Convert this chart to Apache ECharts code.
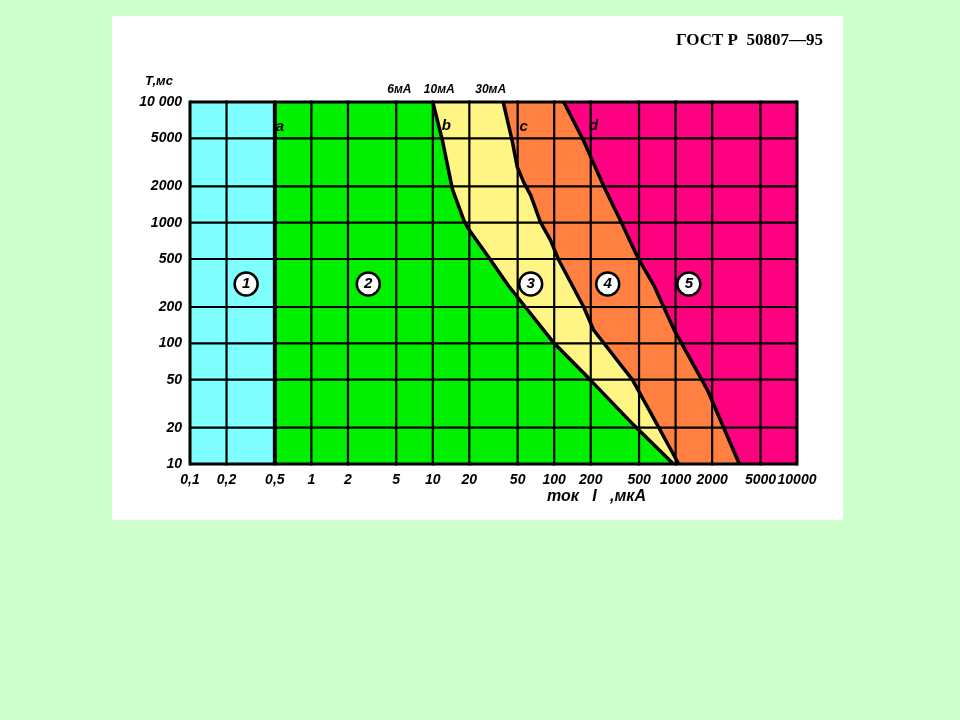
<!DOCTYPE html>
<html>
<head>
<meta charset="utf-8">
<title>ГОСТ Р 50807-95</title>
<script src="https://cdn.jsdelivr.net/npm/echarts@6/dist/echarts.min.js"></script>
<style>
html,body{margin:0;padding:0;background:#ccffcc;}
#chart{width:960px;height:720px;}
</style>
</head>
<body>
<div id="chart"></div>
<script>
// шкалы
var xTicks = [0.1, 0.2, 0.5, 1, 2, 5, 10, 20, 50, 100, 200, 500, 1000, 2000, 5000, 10000];
var xTickLabels = ['0,1', '0,2', '0,5', '1', '2', '5', '10', '20', '50', '100', '200', '500', '1000', '2000', '5000', '10000'];
var yTicks = [10, 20, 50, 100, 200, 500, 1000, 2000, 5000, 10000];
var yTickLabels = ['10', '20', '50', '100', '200', '500', '1000', '2000', '5000', '10 000'];

// граничные кривые (ток, время)
var curveA = [[0.5, 10000], [0.5, 10]];
var curveB = [[10, 10000], [12, 4800], [14.5, 1900], [18, 1050], [19.5, 900], [28, 540], [42, 300], [100, 100], [190, 52], [452, 21], [960, 10]];
var curveC = [[38, 10000], [45, 4800], [49.6, 2900], [56, 2170], [64, 1690], [77, 1010], [93, 720], [109, 490], [175, 200], [211, 129], [440, 50], [624, 26.5], [1060, 10]];
var curveD = [[120, 10000], [175, 4750], [260, 1935], [350, 1050], [490, 510], [660, 304], [970, 130], [1830, 41], [3350, 10]];

// подписи
var curveTags = ['a', 'b', 'c', 'd'];
var curveTagPos = [[0.55, 6200], [12.9, 6400], [56, 6200], [211, 6400]];
var zoneNums = ['1', '2', '3', '4', '5'];
var zoneNumPos = [[0.29, 310], [2.94, 310], [64, 310], [276, 310], [1285, 310]];
var topTags = ['6мА', '10мА', '30мА'];
var topTagPos = [[5.3, 10000], [11.3, 10000], [30, 10000]];

var xMin = 0.1, xMax = 10000, yMin = 10, yMax = 10000;
var zoneColors = ['#ff0080', '#ff8040', '#fff585', '#00f000', '#80ffff'];
var tickFont = "'Liberation Sans Narrow', 'Liberation Sans', sans-serif";

function leftOf(curve){
	return [[xMin, yMax]].concat(curve).concat([[xMin, yMin]]);
}
var zonePolys = [
	[[xMin, yMax], [xMax, yMax], [xMax, yMin], [xMin, yMin]],
	leftOf(curveD),
	leftOf(curveC),
	leftOf(curveB),
	leftOf(curveA)
];

function tickName(list, names, v){
	var best = 0;
	for(var i = 1; i < list.length; i++){
		if(Math.abs(Math.log(list[i] / v)) < Math.abs(Math.log(list[best] / v))) best = i;
	}
	return names[best];
}

function curveSeries(data, w){
	return {
		type: 'line', data: data, symbol: 'none', z: 5, silent: true,
		lineStyle: {color: '#000', width: w}
	};
}

var labelStyle = {
	show: true, color: '#000', opacity: 1, fontSize: 15,
	fontStyle: 'italic', fontWeight: 'bold', fontFamily: tickFont
};

var chart = echarts.init(document.getElementById('chart'));
var option = {
	backgroundColor: '#ccffcc',
	animation: false,
	grid: {left: 190, right: 163, top: 102, bottom: 256},
	xAxis: {
		type: 'log', logBase: 10, min: xMin, max: xMax,
		axisLine: {show: false}, axisTick: {show: false}, splitLine: {show: false},
		axisLabel: {
			customValues: xTicks, margin: 9, hideOverlap: false, showMinLabel: true, showMaxLabel: true,
			color: '#000', fontSize: 14, fontStyle: 'italic', fontWeight: 'bold', fontFamily: tickFont,
			formatter: function(v){ return tickName(xTicks, xTickLabels, v); }
		}
	},
	yAxis: {
		type: 'log', logBase: 10, min: yMin, max: yMax,
		axisLine: {show: false}, axisTick: {show: false}, splitLine: {show: false},
		axisLabel: {
			customValues: yTicks, margin: 8, hideOverlap: false, showMinLabel: true, showMaxLabel: true,
			color: '#000', fontSize: 14, fontStyle: 'italic', fontWeight: 'bold', fontFamily: tickFont,
			formatter: function(v){ return tickName(yTicks, yTickLabels, v); }
		}
	},
	graphic: [
		{type: 'rect', z: -10, shape: {x: 112, y: 16, width: 731, height: 504}, style: {fill: '#ffffff'}},
		{type: 'text', z: 10, right: 137, top: 32, style: {text: 'ГОСТ Р  50807—95', fill: '#000', font: "bold 17px 'Liberation Serif', serif"}},
		{type: 'text', z: 10, left: 145, top: 75, style: {text: 'Т,мс', fill: '#000', font: "italic bold 13px " + tickFont}},
		{type: 'text', z: 10, left: 547, top: 489, style: {text: 'ток   I   ,мкА', fill: '#000', font: "italic bold 16px " + tickFont}}
	],
	series: [
		{
			// зоны
			type: 'custom', z: 1, silent: true,
			data: [[0], [1], [2], [3], [4]],
			renderItem: function(params, api){
				var i = api.value(0);
				var pts = zonePolys[i].map(function(p){ return api.coord(p); });
				return {type: 'polygon', shape: {points: pts}, style: {fill: zoneColors[i]}};
			}
		},
		{
			// вертикальные линии сетки
			type: 'custom', z: 3, silent: true,
			data: xTicks.map(function(v){ return [v, yMin]; }),
			renderItem: function(params, api){
				var v = api.value(0);
				var p1 = api.coord([v, yMin]), p2 = api.coord([v, yMax]);
				var edge = (v === xMin || v === xMax);
				return {type: 'line', shape: {x1: p1[0], y1: p1[1] + 1.5, x2: p2[0], y2: p2[1] - 1.5},
					style: {stroke: '#000', lineWidth: edge ? 3 : 2.2}};
			}
		},
		{
			// горизонтальные линии сетки
			type: 'custom', z: 3, silent: true,
			data: yTicks.map(function(v){ return [xMin, v]; }),
			renderItem: function(params, api){
				var v = api.value(1);
				var p1 = api.coord([xMin, v]), p2 = api.coord([xMax, v]);
				var edge = (v === yMin || v === yMax);
				return {type: 'line', shape: {x1: p1[0], y1: p1[1], x2: p2[0], y2: p2[1]},
					style: {stroke: '#000', lineWidth: edge ? 3 : 2.2}};
			}
		},
		curveSeries(curveA, 4),
		curveSeries(curveB, 3.5),
		curveSeries(curveC, 3.5),
		curveSeries(curveD, 3.5),
		{
			// буквы кривых
			type: 'scatter', z: 6, silent: true, clip: false, symbolSize: 1,
			itemStyle: {color: 'rgba(0,0,0,0)', opacity: 1},
			data: curveTagPos.map(function(p, i){ return {value: p, name: curveTags[i]}; }),
			label: Object.assign({}, labelStyle, {position: 'inside', formatter: '{b}'})
		},
		{
			// номера зон
			type: 'scatter', z: 6, silent: true, clip: false, symbol: 'circle', symbolSize: 23,
			itemStyle: {color: '#ffffff', borderColor: '#000', borderWidth: 2.5, opacity: 1},
			data: zoneNumPos.map(function(p, i){ return {value: p, name: zoneNums[i]}; }),
			label: Object.assign({}, labelStyle, {position: 'inside', formatter: '{b}'})
		},
		{
			// пороги сверху
			type: 'scatter', z: 6, silent: true, clip: false, symbolSize: 1,
			itemStyle: {color: 'rgba(0,0,0,0)', opacity: 1},
			data: topTagPos.map(function(p, i){ return {value: p, name: topTags[i]}; }),
			label: Object.assign({}, labelStyle, {position: 'top', distance: 6, formatter: '{b}', fontSize: 12})
		}
	]
};
chart.setOption(option);
</script>
</body>
</html>
